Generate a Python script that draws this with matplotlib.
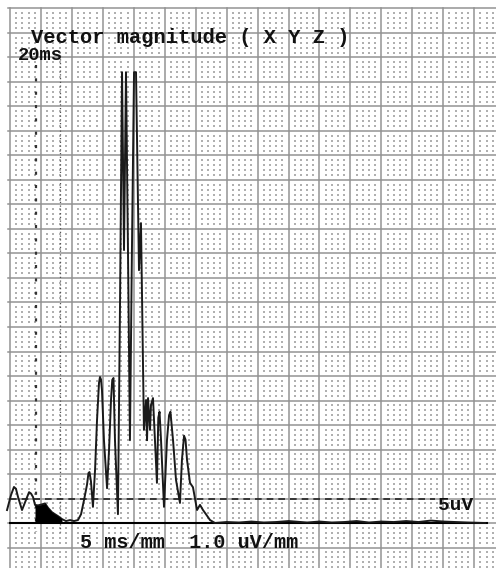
import numpy as np
import matplotlib.pyplot as plt

plt.rcParams['font.family'] = ['Liberation Mono', 'DejaVu Sans Mono']

# ---- data: vector magnitude trace (time in ms, amplitude in uV) ----
time_ms = [-2.4, 0.8, 3.2, 4.8, 6.5, 9.7, 12.9, 15.4, 17.0, 18.6, 20.2, 22.6,
           25.8, 28.3, 30.7, 33.9, 36.3, 38.8, 42.0, 45.2, 48.5, 51.7, 54.9,
           57.4, 59.8, 62.2, 63.4, 64.2, 65.4, 67.0, 68.7, 70.3, 71.9, 72.7,
           73.5, 74.3, 75.9, 78.4, 80.0, 81.6, 82.6, 83.6, 84.8, 87.2, 88.9,
           90.5, 92.1, 93.7, 95.3, 96.9, 98.5, 100.2, 101.8, 104.2, 105.8,
           108.2, 109.9, 110.7, 111.5, 113.1, 113.9, 115.5, 117.1, 118.7,
           119.8, 120.8, 122.0, 124.4, 126.8, 128.5, 129.6, 131.7, 134.1,
           137.3, 138.9, 140.6, 141.8, 143.0, 145.4, 147.8, 151.1,
           153.5, 155.9, 158.3, 161.6, 165.6,
           175, 185, 195, 205, 215, 225, 240, 250, 260, 270, 280, 290, 300,
           310, 320, 330, 340, 350, 360, 370, 383.7]
amp_uv = [2.65, 5.7, 7.35, 7.0, 5.3, 2.65, 4.7, 6.3, 6.0, 5.3, 3.7, 3.6,
          3.8, 4.0, 3.1, 2.2, 1.8, 1.4, 0.8, 0.4, 0.6, 0.4, 0.6,
          1.8, 4.7, 7.8, 10.2, 10.4, 8.5, 3.3, 10.8, 21.0, 28.6, 29.8,
          29.3, 27.1, 16.9, 7.1, 14.9, 25.1, 29.2, 29.6, 16.9, 1.8, 45.5,
          92.0, 55.7, 92.0, 55.7, 16.9, 55.7, 92.0, 92.0, 51.6, 61.2,
          19.0, 25.1, 16.9, 25.5, 19.0, 24.1, 25.5, 16.9, 8.2,
          21.5, 22.7, 16.9, 3.3, 16.9, 22.0, 22.7, 16.9, 8.8,
          4.1, 12.9, 17.8, 17.0, 12.9, 8.2, 7.3, 2.65,
          3.7, 2.65, 1.8, 0.6, 0.0,
          0.2, 0.1, 0.3, 0.1, 0.2, 0.4, 0.1, 0.3, 0.1, 0.2, 0.4, 0.1, 0.3,
          0.2, 0.4, 0.2, 0.5, 0.3, 0.2, 0.1, 0.0]

fill_start, fill_end = 20.2, 42.0      # blackened low-amplitude segment
marker_sparse = 21.0                    # ms, sparse tick marker
marker_dotted = 40.4                    # ms, fine dotted marker
threshold_uv = 5.0

title = 'Vector magnitude ( X Y Z )'
scale_text = '5 ms/mm  1.0 uV/mm'

# ---- figure ----
fig = plt.figure(figsize=(4.96, 5.68), dpi=100)
ax = fig.add_axes([0, 0, 1, 1])
ax.set_xlim(-8.08, 392.6)
ax.set_ylim(-9.18, 106.73)
ax.axis('off')

# paper grid
GRID = '#939393'
DOT = '#b0b0b0'
for xv in np.arange(0, 400, 25):
    ax.plot([xv, xv], [-10, 105], color=GRID, lw=1.1, zorder=1)
for yv in np.arange(-5, 106, 5):
    ax.plot([-2, 400], [yv, yv], color=GRID, lw=1.1, zorder=1)

dx = [v for v in np.arange(5, 400, 5) if v % 25]
dy = [v for v in np.arange(-9, 105, 1) if v % 5]
gx, gy = np.meshgrid(dx, dy)
ax.scatter(gx.ravel(), gy.ravel(), s=1.0, color=DOT, marker='s',
           linewidths=0, zorder=1)

# markers
ax.plot([marker_sparse, marker_sparse], [93.5, -1.8], color='#333333',
        lw=1.6, ls=(0, (1.4, 4.6)), zorder=3)
ax.plot([marker_dotted, marker_dotted], [95.5, -1.8], color='#555555',
        lw=0.9, ls=(0, (1, 2)), zorder=3)

# threshold and baseline
ax.plot([0, 343], [threshold_uv, threshold_uv], color='#222222', lw=1.2,
        ls=(0, (4, 3)), zorder=3)
ax.plot([0, 385], [0, 0], color='black', lw=1.5, zorder=3)

# trace
t = np.array(time_ms)
a = np.array(amp_uv)
ax.plot(t, a, color='#1a1a1a', lw=1.4, zorder=4, solid_joinstyle='round')
mask = (t >= fill_start) & (t <= fill_end)
ax.fill_between(t[mask], 0, a[mask], color='black', zorder=4, lw=0)

# texts
ax.text(17.0, 97.9, title, fontsize=14.7, fontweight='bold', color='#111111',
        va='baseline', ha='left', zorder=5)
ax.text(6.5, 94.5, '20ms', fontsize=13.5, fontweight='bold', color='#111111',
        va='baseline', ha='left', zorder=5)
ax.text(56.5, -5.1, scale_text, fontsize=14.5, fontweight='bold',
        color='#111111', va='baseline', ha='left', zorder=5)
ax.text(345.7, 2.65, '5uV', fontsize=14, fontweight='bold', color='#111111',
        va='baseline', ha='left', zorder=5)

fig.savefig('out.png', dpi=100, facecolor='white')
plt.close(fig)
